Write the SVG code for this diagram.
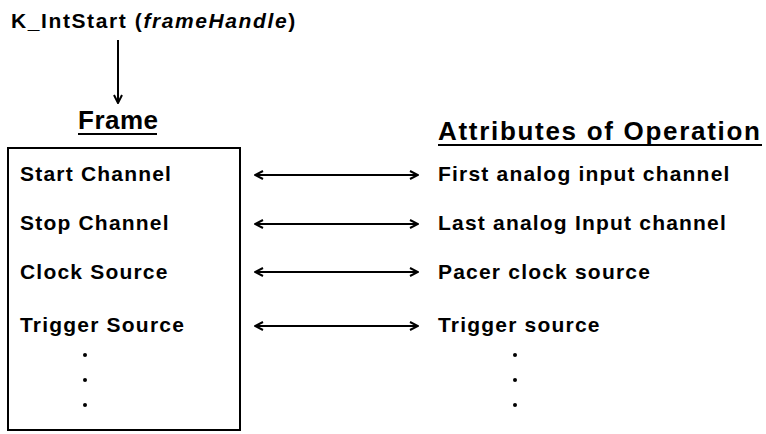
<svg xmlns="http://www.w3.org/2000/svg" width="766" height="434" viewBox="0 0 766 434">
<style>
text{font-family:"Liberation Sans",Arial,sans-serif;font-weight:bold;fill:#000}
.row{font-size:21px;letter-spacing:1.2px}
.head{font-size:26px}
.ln{stroke:#000;stroke-width:2;fill:none}
</style>
<defs>
<marker id="ah" viewBox="0 0 10 10" refX="9" refY="5" markerWidth="10" markerHeight="10" markerUnits="userSpaceOnUse" orient="auto-start-reverse">
<path d="M1,1 L9,5 L1,9" fill="none" stroke="#000" stroke-width="2"/>
</marker>
</defs>
<rect width="766" height="434" fill="#fff"/>
<g id="title"><text x="11" y="28" style="font-size:21px;letter-spacing:1.6px">K_IntStart (<tspan font-style="italic">frameHandle</tspan>)</text></g>
<g id="frame">
<text class="head" x="78" y="129" style="letter-spacing:0.5px">Frame</text>
<line class="ln" x1="78" y1="134" x2="157" y2="134"/>
<rect class="ln" x="8" y="148" width="232" height="282"/>
<text class="row" x="20" y="181">Start Channel</text>
<text class="row" x="20" y="230">Stop Channel</text>
<text class="row" x="20" y="279">Clock Source</text>
<text class="row" x="20" y="332">Trigger Source</text>
<circle cx="85" cy="355" r="2"/><circle cx="85" cy="380" r="2"/><circle cx="85" cy="405" r="2"/>
</g>
<g id="attributes">
<text class="head" x="438" y="140" style="letter-spacing:1.7px">Attributes of Operation</text>
<line class="ln" x1="438" y1="145" x2="762" y2="145"/>
<text class="row" x="438" y="181">First analog input channel</text>
<text class="row" x="438" y="230">Last analog Input channel</text>
<text class="row" x="438" y="279">Pacer clock source</text>
<text class="row" x="438" y="332">Trigger source</text>
<circle cx="515" cy="355" r="2"/><circle cx="515" cy="380" r="2"/><circle cx="515" cy="405" r="2"/>
</g>
<g id="connectors">
<line class="ln" x1="118" y1="40" x2="118" y2="103" marker-end="url(#ah)"/>
<line class="ln" x1="255" y1="175" x2="418" y2="175" marker-start="url(#ah)" marker-end="url(#ah)"/>
<line class="ln" x1="255" y1="224" x2="418" y2="224" marker-start="url(#ah)" marker-end="url(#ah)"/>
<line class="ln" x1="255" y1="272" x2="418" y2="272" marker-start="url(#ah)" marker-end="url(#ah)"/>
<line class="ln" x1="255" y1="326" x2="418" y2="326" marker-start="url(#ah)" marker-end="url(#ah)"/>
</g>
</svg>
